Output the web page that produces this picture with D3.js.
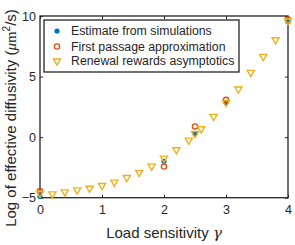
<!DOCTYPE html>
<html>
<head>
<meta charset="utf-8">
<script src="https://cdn.jsdelivr.net/npm/d3@7"></script>
<style>
  body { margin: 0; background: #fff; }
  text { font-family: "Liberation Sans", Arial, sans-serif; fill: #262626; }
</style>
</head>
<body>
<div id="chart"></div>
<script>
// simulation estimates
var simGamma = [0, 2, 2.5, 3, 4];
var simValue = [-4.9, -2.0, 0.27, 2.85, 9.5];

// first passage approximation
var fpGamma = [0, 2, 2.5, 3, 4];
var fpValue = [-4.45, -2.43, 0.88, 3.08, 9.7];

// renewal rewards asymptotics
var rrGamma = [0, 0.2, 0.4, 0.6, 0.8, 1.0, 1.2, 1.4, 1.6, 1.8, 2.0, 2.2, 2.4, 2.5, 2.6, 2.8, 3.0, 3.2, 3.4, 3.6, 3.8, 4.0];
var rrValue = [-4.64, -4.69, -4.52, -4.36, -4.22, -4.0, -3.72, -3.34, -2.92, -2.4, -1.74, -1.05, -0.25, 0.3, 0.69, 1.7, 2.85, 3.97, 5.34, 6.66, 8.04, 9.6];

var xTicks = [0, 1, 2, 3, 4];
var yTicks = [-5, 0, 5, 10];
var legendLabels = ["Estimate from simulations", "First passage approximation", "Renewal rewards asymptotics"];

var width = 295, height = 245;
var plotLeft = 40, plotRight = 288, plotTop = 16, plotBottom = 197.7;
var axisColor = "#262626";
var blue = "#0072BD", orange = "#D95319", yellow = "#EDB120";

var svg = d3.select("#chart").append("svg")
    .attr("width", width)
    .attr("height", height);

var x = d3.scaleLinear().domain([0, 4]).range([plotLeft, plotRight]);
var y = d3.scaleLinear().domain([-5, 10]).range([plotBottom, plotTop]);

// axes, ticks pointing inward
function styleAxis(g){
    g.select(".domain").remove();
    g.selectAll("line").attr("stroke", axisColor);
    g.selectAll("text").attr("fill", axisColor).style("font-size", "12.5px");
}
svg.append("g").attr("transform", "translate(0," + plotBottom + ")")
    .call(d3.axisBottom(x).tickValues(xTicks).tickSize(-3).tickPadding(7).tickFormat(d3.format("d")))
    .call(styleAxis);
svg.append("g").attr("transform", "translate(0," + plotTop + ")")
    .call(d3.axisTop(x).tickValues(xTicks).tickSize(-3).tickFormat(""))
    .call(styleAxis);
svg.append("g").attr("transform", "translate(" + plotLeft + ",0)")
    .call(d3.axisLeft(y).tickValues(yTicks).tickSize(-3).tickPadding(4).tickFormat(d3.format("d")))
    .call(styleAxis);
svg.append("g").attr("transform", "translate(" + plotRight + ",0)")
    .call(d3.axisRight(y).tickValues(yTicks).tickSize(-3).tickFormat(""))
    .call(styleAxis);

svg.append("rect")
    .attr("x", plotLeft).attr("y", plotTop)
    .attr("width", plotRight - plotLeft).attr("height", plotBottom - plotTop)
    .attr("fill", "none").attr("stroke", axisColor).attr("stroke-width", 1.3);

// axis labels
var xl = svg.append("text")
    .attr("x", (plotLeft + plotRight) / 2).attr("y", 238)
    .attr("text-anchor", "middle")
    .style("font-size", "15px");
xl.append("tspan").text("Load sensitivity ");
xl.append("tspan").style("font-family", "'DejaVu Serif', serif").style("font-style", "italic").text("γ");

var yl = svg.append("text")
    .attr("transform", "translate(16," + 118 + ") rotate(-90)")
    .attr("text-anchor", "middle")
    .style("font-size", "15px");
yl.append("tspan").text("Log of effective diffusivity (");
yl.append("tspan").style("font-family", "'Liberation Serif', serif").style("font-style", "italic").text("μ");
yl.append("tspan").style("font-family", "'Liberation Serif', serif").text("m");
yl.append("tspan").attr("dy", -6).style("font-size", "10px").text("2");
yl.append("tspan").attr("dy", 6).text("/s)");

// markers
var tri = d3.symbol().type(d3.symbolTriangle).size(22);

function drawSim(g, pts){
    g.selectAll("circle").data(pts).join("circle")
        .attr("cx", function(d){ return x(d[0]); })
        .attr("cy", function(d){ return y(d[1]); })
        .attr("r", 2.6)
        .attr("fill", blue);
}
function drawFp(g, pts){
    g.selectAll("circle").data(pts).join("circle")
        .attr("cx", function(d){ return x(d[0]); })
        .attr("cy", function(d){ return y(d[1]); })
        .attr("r", 2.6)
        .attr("fill", "none")
        .attr("stroke", orange)
        .attr("stroke-width", 1.4);
}
function drawRr(g, pts){
    g.selectAll("path").data(pts).join("path")
        .attr("d", tri)
        .attr("transform", function(d){ return "translate(" + x(d[0]) + "," + y(d[1]) + ") rotate(180)"; })
        .attr("fill", "none")
        .attr("stroke", yellow)
        .attr("stroke-width", 1.4);
}

drawSim(svg.append("g"), d3.zip(simGamma, simValue));
drawFp(svg.append("g"), d3.zip(fpGamma, fpValue));
drawRr(svg.append("g"), d3.zip(rrGamma, rrValue));

// legend
var lg = svg.append("g");
lg.append("rect")
    .attr("x", 44).attr("y", 20)
    .attr("width", 195).attr("height", 52)
    .attr("fill", "#fff").attr("stroke", axisColor).attr("stroke-width", 1.3);
var rows = [31, 46.5, 61];
drawSim(lg.append("g"), [[x.invert(57), y.invert(rows[0])]]);
drawFp(lg.append("g"), [[x.invert(57), y.invert(rows[1])]]);
drawRr(lg.append("g"), [[x.invert(57), y.invert(rows[2])]]);
lg.selectAll("text.lab").data(legendLabels).join("text")
    .attr("class", "lab")
    .attr("x", 71)
    .attr("y", function(d, i){ return rows[i]; })
    .attr("dy", "0.35em")
    .style("font-size", "12.3px")
    .text(function(d){ return d; });
</script>
</body>
</html>
